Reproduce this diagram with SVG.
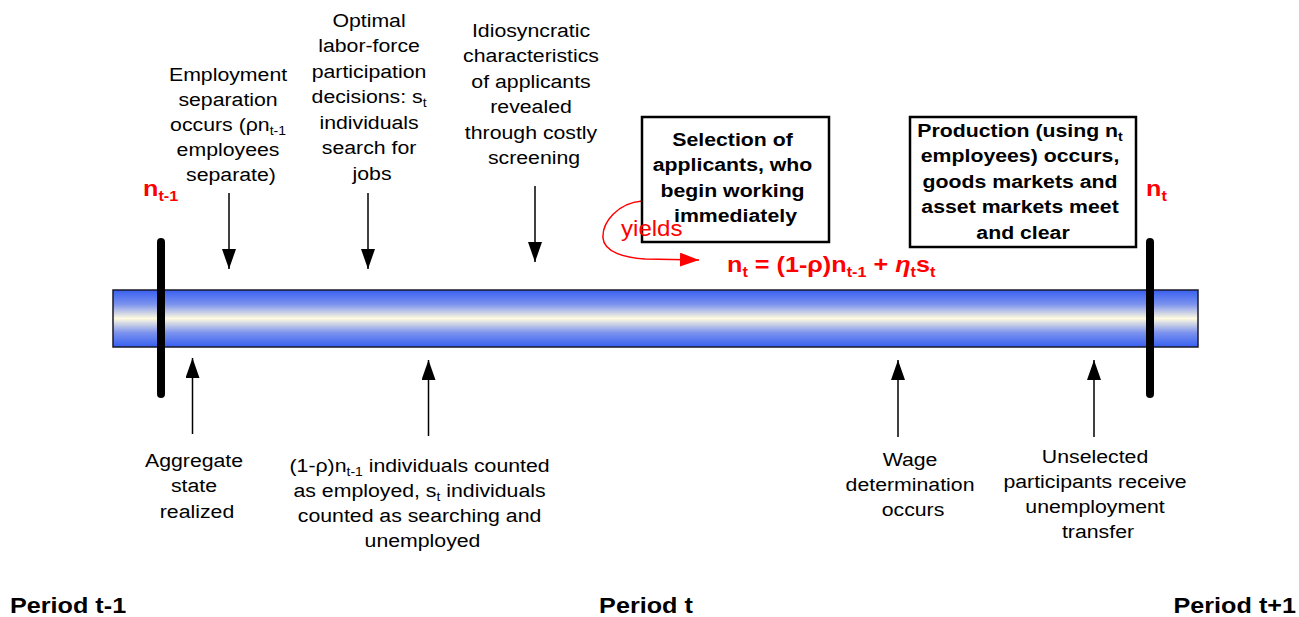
<svg xmlns="http://www.w3.org/2000/svg" width="1299" height="617" viewBox="0 0 1299 617">
<style>
.t{font-family:"Liberation Sans",Arial,Helvetica,sans-serif;font-size:19px;fill:#000;text-anchor:middle}
.b{font-weight:bold}
.r{fill:#ff0000}
.s{font-size:12.5px;baseline-shift:-4px}
.sb{font-size:14.5px;baseline-shift:-5px}
.st{text-anchor:start}
.en{text-anchor:end}
.box{fill:#fff;stroke:#000;stroke-width:2.5}
.arr{stroke:#000;stroke-width:1.5;fill:none;marker-end:url(#ah)}
.tick{stroke:#000;stroke-width:8;stroke-linecap:round}
.per{font-size:22.5px}
</style>
<defs>
<linearGradient id="barGrad" x1="0" y1="0" x2="0" y2="1">
<stop offset="0" stop-color="#3860f0"/>
<stop offset="0.25" stop-color="#7b92ee"/>
<stop offset="0.5" stop-color="#fffbe0"/>
<stop offset="0.75" stop-color="#7b92ee"/>
<stop offset="1" stop-color="#3860f0"/>
</linearGradient>
<marker id="ah" markerUnits="userSpaceOnUse" markerWidth="20" markerHeight="14" refX="20" refY="7" orient="auto"><path d="M0,0 L20,7 L0,14 z" fill="#000"/></marker>
<marker id="ahr" markerUnits="userSpaceOnUse" markerWidth="20" markerHeight="14" refX="19" refY="7" orient="auto"><path d="M0,0 L19,7 L0,14 z" fill="#ff0000"/></marker>
</defs>
<rect width="1299" height="617" fill="#fff"/>

<g id="timeline">
<rect x="113" y="290" width="1085" height="57" fill="url(#barGrad)" stroke="#1a1a2a" stroke-width="1.5"/>
<line class="tick" x1="161" y1="242" x2="161" y2="394"/>
<line class="tick" x1="1150" y1="242" x2="1150" y2="394"/>
</g>

<g id="connectors">
<line class="arr" x1="229" y1="193" x2="229" y2="269"/>
<line class="arr" x1="368" y1="193" x2="368" y2="269"/>
<line class="arr" x1="535" y1="186" x2="535" y2="262"/>
<line class="arr" x1="192.5" y1="434" x2="192.5" y2="358"/>
<line class="arr" x1="428.5" y1="436" x2="428.5" y2="360"/>
<line class="arr" x1="898" y1="437" x2="898" y2="360"/>
<line class="arr" x1="1094" y1="437" x2="1094" y2="360"/>
<path d="M642,201 C618,203 602,222 603,238 C604,252 625,258 645,259 L699,260" fill="none" stroke="#ff0000" stroke-width="1.5" marker-end="url(#ahr)"/>
</g>

<g id="n-t-minus-1">
<text class="t b r st" transform="matrix(1.12 0 0 1 143 0)" x="0" y="196" style="font-size:22.5px">n<tspan class="sb">t-1</tspan></text>
</g>
<g id="n-t">
<text class="t b r st" transform="matrix(1.12 0 0 1 1146 0)" x="0" y="196" style="font-size:22.5px">n<tspan class="sb">t</tspan></text>
</g>

<g id="employment-separation">
<text class="t" transform="matrix(1.12 0 0 1 231 0)">
<tspan x="0" y="81">Employment</tspan>
<tspan x="0" y="106">separation</tspan>
<tspan x="0" y="131">occurs (ρn<tspan class="s">t-1</tspan></tspan>
<tspan x="0" y="156">employees</tspan>
<tspan x="0" y="181">separate)</tspan>
</text>
</g>

<g id="participation-decisions">
<text class="t" transform="matrix(1.12 0 0 1 372 0)">
<tspan x="0" y="27">Optimal</tspan>
<tspan x="0" y="52.5">labor-force</tspan>
<tspan x="0" y="78">participation</tspan>
<tspan x="0" y="103.5">decisions: s<tspan class="s">t</tspan></tspan>
<tspan x="0" y="129">individuals</tspan>
<tspan x="0" y="154.5">search for</tspan>
<tspan x="0" y="180">jobs</tspan>
</text>
</g>

<g id="screening">
<text class="t" transform="matrix(1.12 0 0 1 534 0)">
<tspan x="0" y="37">Idiosyncratic</tspan>
<tspan x="0" y="62.5">characteristics</tspan>
<tspan x="0" y="88">of applicants</tspan>
<tspan x="0" y="113.5">revealed</tspan>
<tspan x="0" y="139">through costly</tspan>
<tspan x="0" y="164.5">screening</tspan>
</text>
</g>

<g id="selection">
<rect class="box" x="642" y="117" width="187" height="125"/>
<text class="t b" transform="matrix(1.12 0 0 1 735.5 0)">
<tspan x="0" y="146">Selection of</tspan>
<tspan x="0" y="171.5">applicants, who</tspan>
<tspan x="0" y="197">begin working</tspan>
<tspan x="0" y="222.5">immediately</tspan>
</text>
</g>

<g id="yields-label">
<text class="t r st" transform="matrix(1.12 0 0 1 621 0)" x="0" y="236" style="font-size:21.5px">yields</text>
</g>

<g id="equation">
<text class="t b r st" transform="matrix(1.12 0 0 1 727 0)" x="0" y="272" style="font-size:22.5px">n<tspan class="sb">t</tspan> = (1-ρ)n<tspan class="sb">t-1</tspan> + <tspan font-style="italic">η</tspan><tspan class="sb">t</tspan>s<tspan class="sb">t</tspan></text>
</g>

<g id="production">
<rect class="box" x="910" y="117" width="226" height="130"/>
<text class="t b" transform="matrix(1.12 0 0 1 1023 0)">
<tspan x="0" y="137">Production (using n<tspan class="s">t</tspan></tspan>
<tspan x="0" y="162.5">employees) occurs,</tspan>
<tspan x="0" y="188">goods markets and</tspan>
<tspan x="0" y="213.5">asset markets meet</tspan>
<tspan x="0" y="239">and clear</tspan>
</text>
</g>

<g id="aggregate-state">
<text class="t" transform="matrix(1.12 0 0 1 197 0)">
<tspan x="0" y="467">Aggregate</tspan>
<tspan x="0" y="492">state</tspan>
<tspan x="0" y="518">realized</tspan>
</text>
</g>

<g id="counting">
<text class="t" transform="matrix(1.12 0 0 1 422.5 0)">
<tspan x="0" y="472">(1-ρ)n<tspan class="s">t-1</tspan> individuals counted</tspan>
<tspan x="0" y="497">as employed, s<tspan class="s">t</tspan> individuals</tspan>
<tspan x="0" y="522">counted as searching and</tspan>
<tspan x="0" y="547">unemployed</tspan>
</text>
</g>

<g id="wage-determination">
<text class="t" transform="matrix(1.12 0 0 1 913 0)">
<tspan x="0" y="466.5">Wage</tspan>
<tspan x="0" y="491.5">determination</tspan>
<tspan x="0" y="516.5">occurs</tspan>
</text>
</g>

<g id="unemployment-transfer">
<text class="t" transform="matrix(1.12 0 0 1 1098 0)">
<tspan x="0" y="463">Unselected</tspan>
<tspan x="0" y="488">participants receive</tspan>
<tspan x="0" y="513.5">unemployment</tspan>
<tspan x="0" y="538.5">transfer</tspan>
</text>
</g>

<g id="periods">
<text class="t b st per" transform="matrix(1.12 0 0 1 10 0)" x="0" y="613">Period t-1</text>
<text class="t b per" transform="matrix(1.12 0 0 1 646 0)" x="0" y="613">Period t</text>
<text class="t b en per" transform="matrix(1.12 0 0 1 1296 0)" x="0" y="613">Period t+1</text>
</g>
</svg>
